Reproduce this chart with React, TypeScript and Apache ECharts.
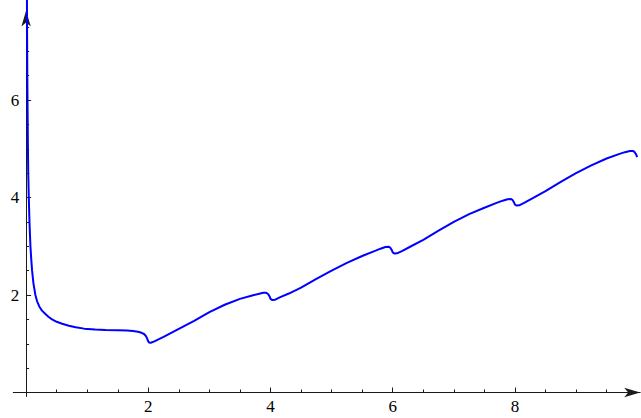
import { useEffect, useRef } from "react";
import * as echarts from "echarts";

// Sampled curve: steep fall near x = 0, then a rising saw-tooth with a small
// notch just before every even x.
const curveX = [
  0.008, 0.012, 0.016, 0.02, 0.025, 0.03, 0.035, 0.044, 0.055, 0.071, 0.085,
  0.098, 0.12, 0.152, 0.18, 0.218, 0.26, 0.316, 0.37, 0.425, 0.5, 0.59, 0.7,
  0.81, 0.95, 1.13, 1.3, 1.5, 1.65, 1.75, 1.83, 1.89, 1.93, 1.96, 1.98, 1.995,
  2.01, 2.04,
  2.1, 2.25, 2.46, 2.75, 3.0, 3.25, 3.5, 3.7, 3.8, 3.88, 3.93, 3.96, 3.985,
  4.0, 4.03, 4.07,
  4.15, 4.3, 4.5, 4.75, 5.0, 5.25, 5.5, 5.7, 5.8, 5.88, 5.93, 5.96, 5.985,
  6.0, 6.03, 6.07,
  6.15, 6.3, 6.5, 6.75, 7.0, 7.25, 7.5, 7.7, 7.8, 7.88, 7.93, 7.96, 7.985,
  8.0, 8.03, 8.07,
  8.15, 8.3, 8.5, 8.75, 9.0, 9.25, 9.5, 9.7, 9.8, 9.88, 9.93, 9.96, 9.985,
  10.0,
];
const curveY = [
  10.5, 8.6, 7.4, 6.5, 5.7, 5.0, 4.5, 4.0, 3.5, 3.0, 2.72,
  2.5, 2.24, 2.0, 1.87, 1.76, 1.68, 1.61, 1.55, 1.5, 1.45, 1.41, 1.37,
  1.34, 1.31, 1.29, 1.28, 1.275, 1.27, 1.26, 1.245, 1.225, 1.2, 1.16, 1.11, 1.06,
  1.025, 1.02,
  1.05, 1.14, 1.28, 1.47, 1.65, 1.8, 1.92, 1.99, 2.02, 2.045, 2.045, 2.02, 1.97,
  1.92, 1.895, 1.9,
  1.95, 2.03, 2.15, 2.33, 2.5, 2.66, 2.8, 2.9, 2.95, 2.985, 2.99, 2.97, 2.92,
  2.875, 2.85, 2.855,
  2.9, 3.0, 3.13, 3.32, 3.5, 3.66, 3.79, 3.89, 3.935, 3.965, 3.97, 3.95, 3.9,
  3.855, 3.835, 3.84,
  3.89, 3.99, 4.13, 4.32, 4.5, 4.66, 4.8, 4.89, 4.93, 4.955, 4.955, 4.93, 4.88,
  4.83,
];

const xMajorTicks = [2, 4, 6, 8];
const xMinorTicks = [
  0.5, 1, 1.5, 2, 2.5, 3, 3.5, 4, 4.5, 5, 5.5, 6, 6.5, 7, 7.5, 8, 8.5, 9, 9.5,
];
const yMajorTicks = [2, 4, 6];
const yMinorTicks = [
  0.5, 1, 1.5, 2, 2.5, 3, 3.5, 4, 4.5, 5, 5.5, 6, 6.5, 7, 7.5,
];

const X_MIN = -0.21;
const X_MAX = 10.05;
const Y_MIN = -0.08;
const Y_MAX = 8;

const AXIS_COLOR = "#1a1a1a";
const SERIF = "Liberation Serif";

export default function App() {
  const ref = useRef<HTMLDivElement>(null);

  useEffect(() => {
    document.body.style.margin = "0";
    if (!ref.current) return;
    const chart = echarts.init(ref.current, undefined, { renderer: "svg" });

    const data = curveX.map((x, i) => [x, curveY[i]]);

    // Labels sit at the grid edge, so the margin is measured from there.
    const majorLabel = (margin: number, values: number[]) => ({
      show: true,
      margin,
      customValues: values,
      color: "#000",
      fontFamily: SERIF,
      fontSize: 17,
    });

    const option: any = {
      animation: false,
      backgroundColor: "#fff",
      grid: {
        left: 13.27,
        right: 0.8,
        top: 2.5,
        bottom: 21.6,
        containLabel: false,
        outerBoundsMode: "none",
      },
      xAxis: [
        {
          type: "value",
          position: "bottom",
          min: X_MIN,
          max: X_MAX,
          axisLine: {
            show: true,
            onZero: true,
            onZeroAxisIndex: 0,
            symbol: ["none", "arrow"],
            symbolSize: [7, 16],
            symbolOffset: [0, 0],
            lineStyle: { color: AXIS_COLOR, width: 1 },
          },
          axisTick: {
            show: true,
            inside: true,
            length: 5,
            customValues: xMajorTicks,
            lineStyle: { color: AXIS_COLOR, width: 1 },
          },
          axisLabel: majorLabel(2, xMajorTicks),
          splitLine: { show: false },
        },
        {
          type: "value",
          position: "bottom",
          min: X_MIN,
          max: X_MAX,
          axisLine: {
            show: true,
            onZero: true,
            onZeroAxisIndex: 0,
            lineStyle: { color: "rgba(0,0,0,0)", width: 1 },
          },
          axisTick: {
            show: true,
            inside: true,
            length: 3,
            customValues: xMinorTicks,
            lineStyle: { color: AXIS_COLOR, width: 1 },
          },
          axisLabel: { show: false },
          splitLine: { show: false },
        },
      ],
      yAxis: [
        {
          type: "value",
          position: "left",
          min: Y_MIN,
          max: Y_MAX,
          axisLine: {
            show: true,
            onZero: true,
            onZeroAxisIndex: 0,
            symbol: ["none", "arrow"],
            symbolSize: [7, 16],
            symbolOffset: [0, -8],
            lineStyle: { color: AXIS_COLOR, width: 1 },
          },
          axisTick: {
            show: true,
            inside: true,
            length: 5,
            customValues: yMajorTicks,
            lineStyle: { color: AXIS_COLOR, width: 1 },
          },
          axisLabel: majorLabel(-6, yMajorTicks),
          splitLine: { show: false },
        },
        {
          type: "value",
          position: "left",
          min: Y_MIN,
          max: Y_MAX,
          axisLine: {
            show: true,
            onZero: true,
            onZeroAxisIndex: 0,
            lineStyle: { color: "rgba(0,0,0,0)", width: 1 },
          },
          axisTick: {
            show: true,
            inside: true,
            length: 3,
            customValues: yMinorTicks,
            lineStyle: { color: AXIS_COLOR, width: 1 },
          },
          axisLabel: { show: false },
          splitLine: { show: false },
        },
      ],
      series: [
        {
          type: "line",
          xAxisIndex: 0,
          yAxisIndex: 0,
          data,
          showSymbol: false,
          clip: false,
          smooth: false,
          lineStyle: { color: "#0000ff", width: 2 },
          z: 5,
        },
      ],
    };

    chart.setOption(option);
    return () => {
      chart.dispose();
    };
  }, []);

  return (
    <div
      ref={ref}
      style={{ position: "absolute", left: 0, top: 0, width: 641, height: 418 }}
    />
  );
}
